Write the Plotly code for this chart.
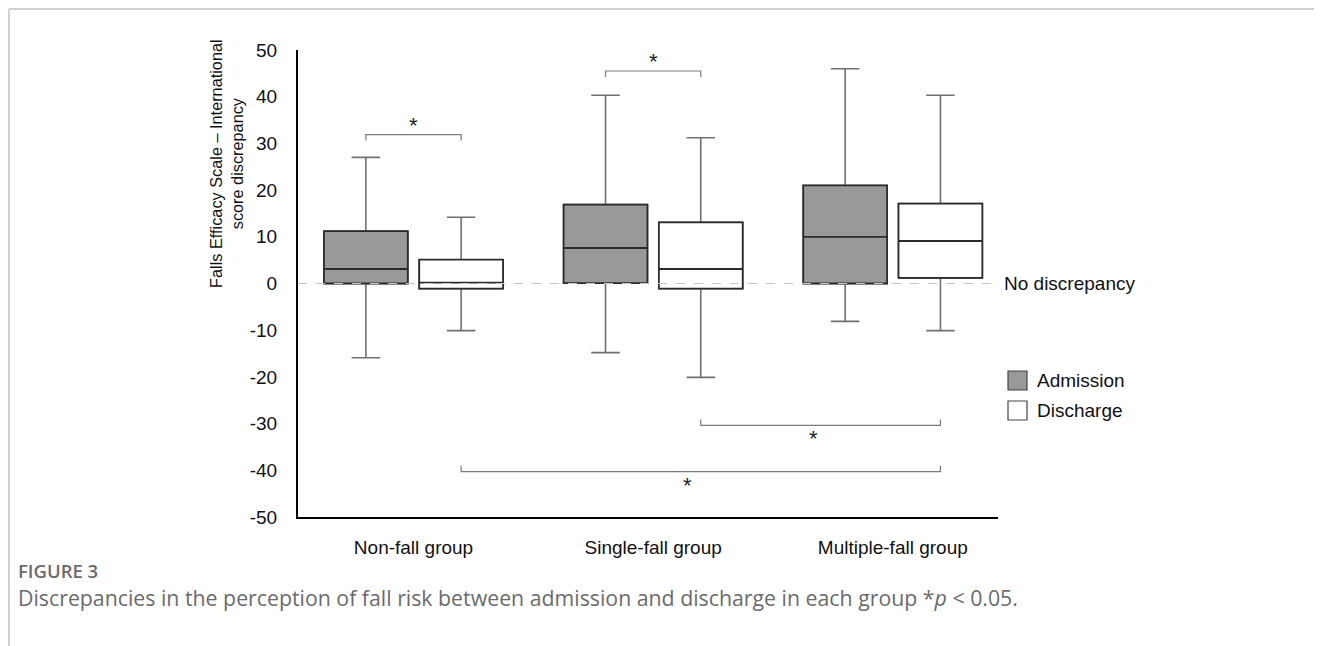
import plotly.graph_objects as go

# ---------------- data ----------------
groups = ["Non-fall group", "Single-fall group", "Multiple-fall group"]

adm_upper = [27.0, 40.3, 46.0]
adm_q3 = [11.2, 16.9, 21.0]
adm_median = [3.1, 7.6, 10.0]
adm_q1 = [0.0, 0.1, 0.0]
adm_lower = [-15.9, -14.8, -8.1]

dis_upper = [14.2, 31.2, 40.3]
dis_q3 = [5.1, 13.1, 17.1]
dis_median = [0.2, 3.1, 9.1]
dis_q1 = [-1.1, -1.1, 1.2]
dis_lower = [-10.1, -20.1, -10.1]

y_ticks = [-50, -40, -30, -20, -10, 0, 10, 20, 30, 40, 50]
y_tick_labels = ["-50", "-40", "-30", "-20", "-10", "0", "10", "20", "30", "40", "50"]

# significance brackets: (group from, side from, group to, side to, bracket y, star y)
brackets_top = [(0, -1, 0, 1, 31.9, 33.9), (1, -1, 1, 1, 45.5, 47.6)]
# (group from, side from, group to, side to, bracket y, star y, star x)
brackets_bottom = [(1, 1, 2, 1, -30.4, -33.2, 1.67), (0, 1, 2, 1, -40.3, -43.2, 1.145)]

# ---------------- styling ----------------
ADM_FILL = "#999999"
DIS_FILL = "#ffffff"
BOX_LINE = "#2b2b2b"
WHISK_LINE = "#707070"
FONT = "Liberation Sans, Arial, sans-serif"
TXT = 19

BOXGAP = 0.205
BOXGROUPGAP = 0.12
half_off = (1 - BOXGAP) / 4.0  # offset of each box center from category center

fig = go.Figure()


def add_series(name, q1, med, q3, lo, hi, fill, og):
    # whiskers (lighter gray)
    fig.add_trace(go.Box(
        name=name, x=groups, q1=q1, median=med, q3=q3,
        lowerfence=lo, upperfence=hi,
        fillcolor=fill, line=dict(color=WHISK_LINE, width=1.6),
        whiskerwidth=0.34, boxpoints=False, offsetgroup=og,
        showlegend=False, hoverinfo="skip"))
    # box body (dark outline)
    fig.add_trace(go.Box(
        name=name, x=groups, q1=q1, median=med, q3=q3,
        lowerfence=q1, upperfence=q3,
        fillcolor=fill, line=dict(color=BOX_LINE, width=1.8),
        whiskerwidth=0, boxpoints=False, offsetgroup=og,
        showlegend=False))


add_series("Admission", adm_q1, adm_median, adm_q3, adm_lower, adm_upper, ADM_FILL, "a")
add_series("Discharge", dis_q1, dis_median, dis_q3, dis_lower, dis_upper, DIS_FILL, "d")

shapes = []
annotations = []

# zero reference line
shapes.append(dict(type="line", xref="paper", yref="y", x0=0, x1=0.995, y0=0, y1=0,
                   line=dict(color="#c4c4c4", width=1.2, dash="dash"), layer="above"))

BR_COL = "#7a7a7a"
tick_h = 1.3
for g0, s0, g1, s1, yl, ys in brackets_top:
    xa = g0 + s0 * half_off
    xb = g1 + s1 * half_off
    shapes.append(dict(type="path", xref="x", yref="y",
                       path=f"M {xa},{yl - tick_h} L {xa},{yl} L {xb},{yl} L {xb},{yl - tick_h}",
                       line=dict(color=BR_COL, width=1.2)))
    annotations.append(dict(x=(xa + xb) / 2, y=ys, xref="x", yref="y", text="*", showarrow=False,
                            font=dict(family=FONT, size=22, color="#222")))
for g0, s0, g1, s1, yl, ys, xs in brackets_bottom:
    xa = g0 + s0 * half_off
    xb = g1 + s1 * half_off
    shapes.append(dict(type="path", xref="x", yref="y",
                       path=f"M {xa},{yl + tick_h} L {xa},{yl} L {xb},{yl} L {xb},{yl + tick_h}",
                       line=dict(color=BR_COL, width=1.2)))
    annotations.append(dict(x=xs, y=ys, xref="x", yref="y", text="*", showarrow=False,
                            font=dict(family=FONT, size=22, color="#222")))

# no-discrepancy label
annotations.append(dict(x=1.006, y=0, xref="paper", yref="y", text="No discrepancy", showarrow=False,
                        xanchor="left", yanchor="middle", font=dict(family=FONT, size=TXT, color="#111")))

# y-axis title
annotations.append(dict(x=-0.103, y=0.758, xref="paper", yref="paper",
                        text="Falls Efficacy Scale – International<br>score discrepancy",
                        textangle=-90, showarrow=False, xanchor="center", yanchor="middle",
                        font=dict(family=FONT, size=16.3, color="#111")))

# manual legend
legend_items = [("Admission", ADM_FILL, 0.3126, 0.2720), ("Discharge", DIS_FILL, 0.2484, 0.2077)]
for label, col, ytop, ybot in legend_items:
    shapes.append(dict(type="rect", xref="paper", yref="paper", x0=1.0143, x1=1.0414, y0=ybot, y1=ytop,
                       fillcolor=col, line=dict(color="#444", width=1.2)))
    annotations.append(dict(x=1.053, y=(ytop + ybot) / 2, xref="paper", yref="paper", text=label,
                            showarrow=False, xanchor="left", yanchor="middle",
                            font=dict(family=FONT, size=TXT, color="#111")))

# figure frame (left and top border)
shapes.append(dict(type="line", xref="paper", yref="paper", x0=-0.4129, x1=-0.4129, y0=1.0878, y1=-0.28,
                   line=dict(color="#d0d0d0", width=2)))
shapes.append(dict(type="line", xref="paper", yref="paper", x0=-0.4129, x1=1.47, y0=1.0878, y1=1.0878,
                   line=dict(color="#d0d0d0", width=2)))

# caption
CAP_FONT = "Open Sans, Noto Sans, sans-serif"
annotations.append(dict(x=-0.4029, y=-0.1156, xref="paper", yref="paper", text="FIGURE 3",
                        showarrow=False, xanchor="left", yanchor="middle",
                        font=dict(family=CAP_FONT, size=18.5, color="#6b6b6b", weight=600)))
annotations.append(dict(x=-0.4029, y=-0.1734, xref="paper", yref="paper",
                        text="Discrepancies in the perception of fall risk between admission and discharge in each group *<i>p</i> &lt; 0.05.",
                        showarrow=False, xanchor="left", yanchor="middle",
                        font=dict(family=CAP_FONT, size=21.3, color="#6b6b6b")))

fig.update_layout(
    width=1314, height=638,
    margin=dict(l=290, r=324, t=42, b=129),
    paper_bgcolor="white", plot_bgcolor="white",
    boxmode="group", boxgap=BOXGAP, boxgroupgap=BOXGROUPGAP,
    showlegend=False,
    shapes=shapes, annotations=annotations,
    font=dict(family=FONT, size=TXT, color="#111"),
    xaxis=dict(type="category", range=[-0.482, 2.439], showline=True, linecolor="black", linewidth=2,
               ticks="outside", ticklen=12, tickcolor="rgba(0,0,0,0)", showgrid=False, zeroline=False,
               tickfont=dict(family=FONT, size=TXT, color="#111"), fixedrange=True),
    yaxis=dict(range=[-50, 50], tickvals=y_ticks, ticktext=y_tick_labels, showline=True,
               linecolor="black", linewidth=2,
               ticks="outside", ticklen=15, tickcolor="rgba(0,0,0,0)", showgrid=False, zeroline=False,
               tickfont=dict(family=FONT, size=TXT, color="#111"), fixedrange=True),
)

fig.write_html("out.html")
